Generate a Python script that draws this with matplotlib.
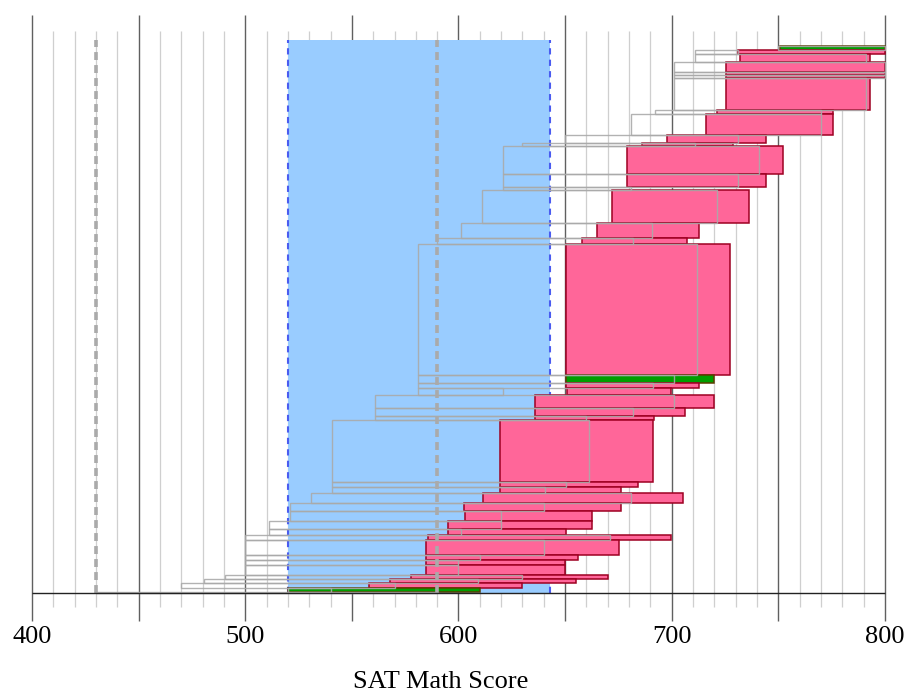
import matplotlib
matplotlib.use('Agg')
import matplotlib.pyplot as plt
from matplotlib.patches import Rectangle

# one entry per school, listed from the top of the stack down
thickness = [4.5, 4, 7.5, 10.5, 2.7, 2.8, 32.5, 3.5, 21.5, 7.5,
             3.5, 28, 13, 3, 32.5, 15, 6, 131, 8.5, 5,
             6.5, 13.5, 8, 4, 62, 5, 5.5, 10, 8.5, 9.5,
             8, 6, 5, 15, 5, 5.5, 9.5, 4, 4, 5.5,
             4, 1]
gray_low = [750, 711, 711, 701, 701, 701, 701, 692, 681, 650,
            630, 621, 621, 621, 611, 601, 590, 581, 581, 581,
            581, 561, 561, 561, 540.5, 540.5, 540.5, 531, 521, 521,
            511, 511, 500, 500, 500, 500, 500, 490.5, 480.5, 470,
            520, 430]
gray_high = [800, 731, 791, 800, 800, 800, 791, 770, 770, 731,
             711, 741, 731, 681, 721, 690.6, 682, 712, 701, 691,
             621, 701, 682, 660, 661, 650.6, 640.4, 681, 640, 620,
             620, 601, 671, 640, 610, 600, 600, 630, 609, 570,
             540, 590]
box_low = [751, 731, 732, 725.5, 725.5, 725.5, 725.5, 721, 716, 698,
           686, 679, 679, None, 672, 665, 658, 650.6, 650.6, 650.6,
           651, 636, 636, 636, 619.6, 619.6, 619.6, 611.6, 602.7, 603,
           595, 595, 585.5, 585, 585, 585, 585, 577.5, 568, 558,
           520, None]
box_high = [800, 800, 793, 800, 800, 800, 793, 775.5, 775.5, 744,
            728.5, 752, 744, None, 736, 712.6, 707, 727.3, 720, 713,
            699.6, 720, 706, 691.5, 691, 684.3, 676, 705.4, 676, 662.7,
            662.7, 650.3, 699.5, 675.5, 656, 650, 650, 670, 655, 630,
            610, None]
box_kind = ['green', 'pink', 'pink', 'pink', 'pink', 'pink', 'pink', 'pink', 'pink', 'pink',
            'pink', 'pink', 'pink', None, 'pink', 'pink', 'pink', 'pink', 'green', 'pink',
            'pink', 'pink', 'pink', 'pink', 'pink', 'pink', 'pink', 'pink', 'pink', 'pink',
            'pink', 'pink', 'pink', 'pink', 'pink', 'pink', 'pink', 'pink', 'pink', 'pink',
            'green', None]

blue_range = (520, 643)
dashed_marks = [430, 590]
tick_values = [400, 500, 600, 700, 800]

face = {'pink': '#ff6699', 'green': '#009e00'}
edge = {'pink': '#9e0022', 'green': '#5c3d00'}

fig = plt.figure(figsize=(9.11, 6.94), dpi=100)
ax = fig.add_axes([0, 0, 1, 1])
ax.set_xlim(385.0, 812.2)
ax.set_ylim(-101, 593)
ax.axis('off')

total = sum(thickness)

# grid lines, minor every 10 and major every 50
for v in range(400, 801, 10):
    if v % 50 == 0:
        ax.vlines(v, -28, 578, color='#606060', lw=1.0, zorder=1)
    else:
        ax.vlines(v, -14, 562, color='#cfcfcf', lw=0.9, zorder=1)

# highlighted range
ax.fill_between(blue_range, 0, 553, color='#99ccff', lw=0, zorder=2)
ax.vlines(blue_range, 0, 553, color='#4a5cf0', lw=1.5,
          linestyles=(0, (3, 2.5)), zorder=3)

top = total
for i in range(len(thickness)):
    h = thickness[i]
    bottom = top - h
    kind = box_kind[i]
    if kind is not None:
        ax.add_patch(Rectangle((box_low[i], bottom), box_high[i] - box_low[i], h,
                               facecolor=face[kind], edgecolor=edge[kind],
                               lw=1.1, zorder=4))
    ax.add_patch(Rectangle((gray_low[i], bottom), gray_high[i] - gray_low[i], h,
                           facecolor='none', edgecolor='#aaaaaa', alpha=0.9,
                           lw=1.0, zorder=5))
    top = bottom

ax.vlines(dashed_marks, 0, 553, color='#aaaaaa', lw=2.6,
          linestyles=(0, (2.2, 1.4)), zorder=6)

ax.hlines(0, 400, 800, color='#222222', lw=1.0, zorder=7)

for v in tick_values:
    ax.text(v, -44, str(v), ha='center', va='center', fontsize=19,
            family='Liberation Serif')
ax.text(591.5, -89, 'SAT Math Score', ha='center', va='center', fontsize=19,
        family='Liberation Serif')

fig.savefig('out.png', dpi=100)
